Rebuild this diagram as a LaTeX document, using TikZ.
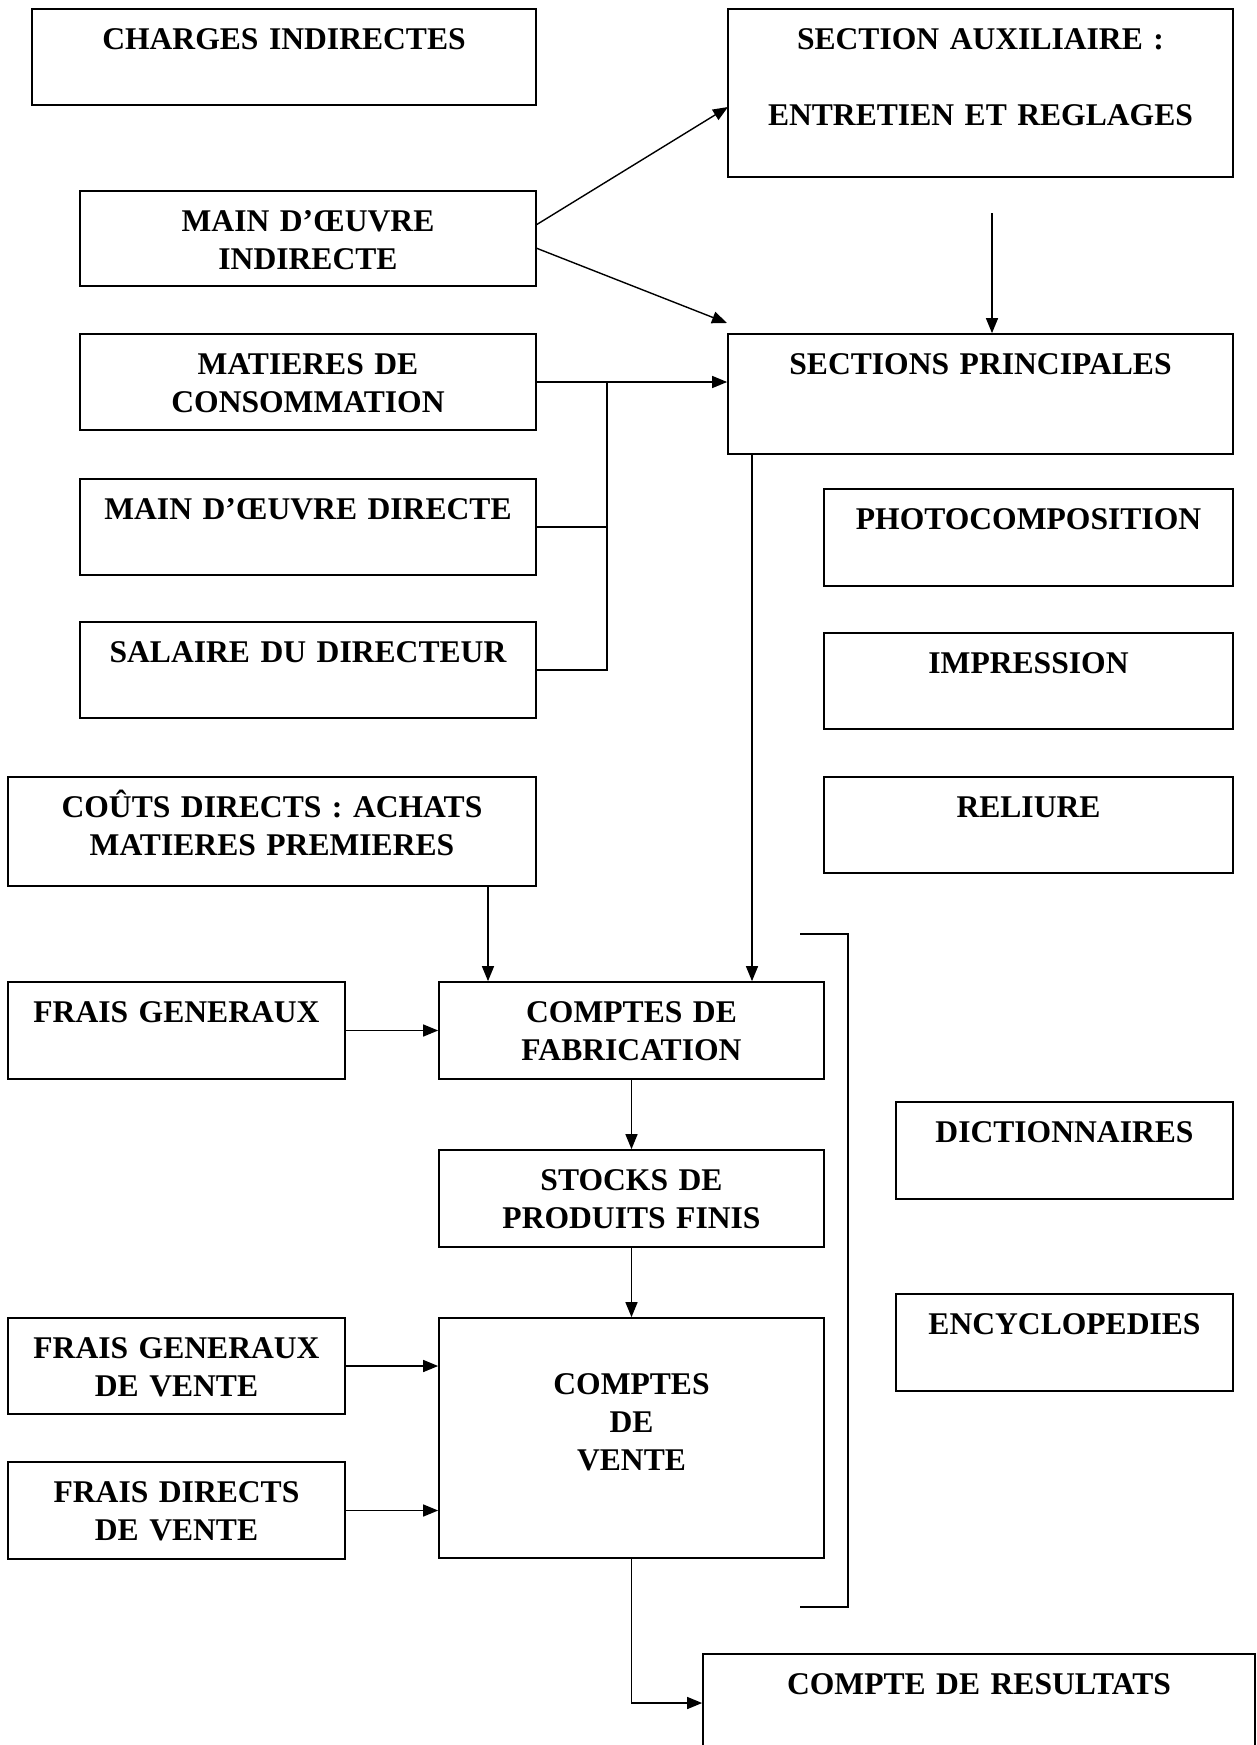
\documentclass[tikz,border=0pt]{standalone}
\usepackage{fontspec}
\setmainfont{Liberation Serif}
\usetikzlibrary{calc,fit,arrows.meta}
% box: [text offset]{name}{left}{top}{right}{bottom}{text}
\newcommand\bx[7][41]{%
  \node[boxsty, fit={(#3,#4) (#5,#6)}] (#2) {};
  \node[lbl] (#2-t) at ($(#2.north)+(0,#1)$) {#7};}
\begin{document}
\begin{tikzpicture}[x=0.5pt,y=-0.5pt,
  boxsty/.style={draw, line width=0.85pt, inner sep=0pt},
  lbl/.style={anchor=base, inner sep=0pt, align=center, text width=250pt,
    font=\bfseries\fontsize{15.8}{19}\selectfont},
  conn/.style={line width=0.7pt},
  arr/.style={conn, -{Triangle[length=7.5pt,width=6pt]}}]
\useasboundingbox (0,0) rectangle (1257,1745);

\bx{ci}{32}{9}{536}{105}{CHARGES INDIRECTES}
\bx{sa}{728}{9}{1233}{177}{SECTION AUXILIAIRE :\\[19pt]ENTRETIEN ET REGLAGES}
\bx{mdoi}{80}{191}{536}{286}{MAIN D’ŒUVRE\\INDIRECTE}
\bx{mc}{80}{334}{536}{430}{MATIERES DE\\CONSOMMATION}
\bx{sp}{728}{334}{1233}{454}{SECTIONS PRINCIPALES}
\bx{mdd}{80}{479}{536}{575}{MAIN D’ŒUVRE DIRECTE}
\bx{pc}{824}{489}{1233}{586}{PHOTOCOMPOSITION}
\bx{sal}{80}{622}{536}{718}{SALAIRE DU DIRECTEUR}
\bx{imp}{824}{633}{1233}{729}{IMPRESSION}
\bx{cd}{8}{777}{536}{886}{COÛTS DIRECTS : ACHATS\\MATIERES PREMIERES}
\bx{rel}{824}{777}{1233}{873}{RELIURE}
\bx{fg}{8}{982}{345}{1079}{FRAIS GENERAUX}
\bx{cf}{439}{982}{824}{1079}{COMPTES DE\\FABRICATION}
\bx{dic}{896}{1102}{1233}{1199}{DICTIONNAIRES}
\bx{spf}{439}{1150}{824}{1247}{STOCKS DE\\PRODUITS FINIS}
\bx{enc}{896}{1294}{1233}{1391}{ENCYCLOPEDIES}
\bx{fgv}{8}{1318}{345}{1414}{FRAIS GENERAUX\\DE VENTE}
\bx[77]{cv}{439}{1318}{824}{1558}{COMPTES\\DE\\VENTE}
\bx{fdv}{8}{1462}{345}{1559}{FRAIS DIRECTS\\DE VENTE}
\bx{cr}{703}{1654}{1255}{1752}{COMPTE DE RESULTATS}

% connector end points
\coordinate (spin) at (727,323);
\coordinate (sadown) at (992,213);
\coordinate (bus) at (607,382);
\coordinate (mdoi1) at (536,225);
\coordinate (mdoi2) at (536,248);
\coordinate (sain) at (728,107);
\coordinate (spout) at (752,454);
\coordinate (cdout) at (488,886);

% connectors
\draw[arr] (mdoi1) -- (sain);
\draw[arr] (mdoi2) -- (spin);
\draw[arr] (sadown) -- (sadown |- sp.north);
\draw[arr] (mc.east) -- (sp.west |- mc.east);
\draw[conn] (sal.east) -| (bus);
\draw[conn] (mdd.east) -- (mdd.east -| bus);
\draw[arr] (spout) -- (spout |- cf.north);
\draw[arr] (cdout) -- (cdout |- cf.north);
\draw[arr] (fg.east) -- (cf.west |- fg.east);
\draw[arr] (cf.south) -- (spf.north);
\draw[arr] (spf.south) -- (cv.north);
\draw[arr] (fgv.east) -- (cv.west |- fgv.east);
\draw[arr] (fdv.east) -- (cv.west |- fdv.east);
\draw[arr] (cv.south) |- (cr.west);

% bracket
\draw[conn] (800,934) -- (848,934) -- (848,1607) -- (800,1607);
\end{tikzpicture}
\end{document}
